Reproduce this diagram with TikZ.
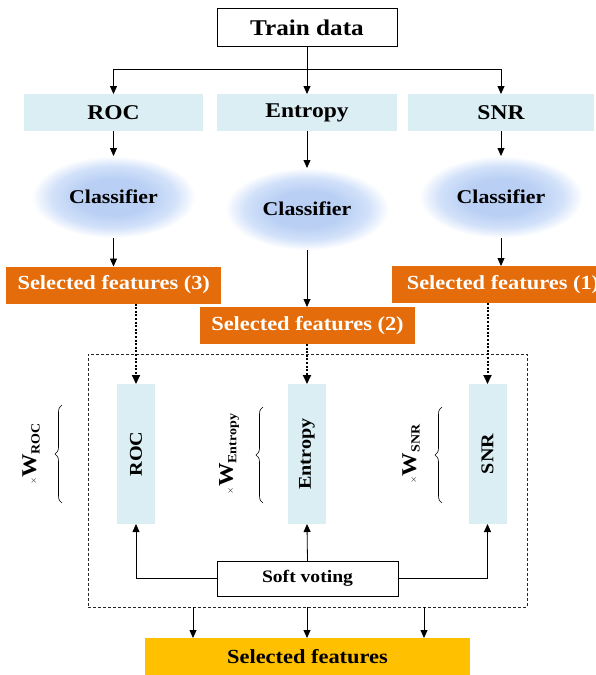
\documentclass[tikz,border=0pt]{standalone}
\usepackage{fontspec}
\setmainfont{Liberation Serif}[FakeStretch=1.12]
\usetikzlibrary{arrows.meta,shapes.geometric,decorations.pathreplacing}
\definecolor{lblue}{HTML}{DAEEF3}
\definecolor{orng}{HTML}{E46C0A}
\definecolor{goldc}{HTML}{FFC000}
\definecolor{ellc}{HTML}{B9CFF4}
\definecolor{ellm}{HTML}{D3E2FA}
\pgfdeclareradialshading{clsshade}{\pgfpoint{0bp}{0bp}}{color(0bp)=(ellc); color(11bp)=(ellc); color(19bp)=(ellm); color(25bp)=(white); color(50bp)=(white)}
\newcommand{\fs}[1]{\fontsize{#1}{#1}\selectfont}
\tikzset{
  every node/.style={inner sep=0pt, outer sep=0pt, font=\bfseries},
  whitebox/.style={draw=black, line width=1pt, fill=white},
  bluebox/.style={fill=lblue},
  orbox/.style={fill=orng, text=white, minimum width=215pt, minimum height=37pt, font=\bfseries\fs{20}},
  cls/.style={ellipse, shade, shading=clsshade, minimum width=164pt, minimum height=82pt, font=\bfseries\fs{19.5}},
  vbox/.style={fill=lblue, rotate=90, minimum width=140pt, minimum height=38pt, font=\bfseries\fs{18}},
  arr/.style={-{Triangle[length=8pt,width=7pt]}, line width=0.8pt},
  dotarr/.style={-{Triangle[length=9pt,width=8pt]}, line width=2pt, dash pattern=on 2pt off 1.6pt},
  brc/.style={decorate, decoration={brace, amplitude=7pt}, line width=0.6pt},
  wlab/.style={rotate=90, font=\bfseries}
}
\begin{document}
\begin{tikzpicture}[x=1pt, y=-1pt]
\useasboundingbox (0,0) rectangle (596,675);
% top
\node[whitebox, minimum width=180pt, minimum height=38pt, font=\bfseries\fs{22.5}] (train) at (307,27.5) {Train data};
\node[bluebox, minimum width=179pt, minimum height=37pt, font=\bfseries\fs{21}] (roc) at (113.5,112.5) {ROC};
\node[bluebox, minimum width=180pt, minimum height=37pt, font=\bfseries\fs{21}] (ent) at (307,112.5) {Entropy};
\node[bluebox, minimum width=186pt, minimum height=37pt, font=\bfseries\fs{21}] (snr) at (501,112.5) {SNR};
\coordinate (split) at (307,69);
\draw[line width=0.8pt] (train.south) -- (split);
\draw[arr] (split) -| (roc.north);
\draw[arr] (split) -- (ent.north);
\draw[arr] (split) -| (snr.north);
% classifiers
\node[cls] (cl1) at (113.5,197) {Classifier};
\node[cls] (cl2) at (307,209) {Classifier};
\node[cls] (cl3) at (501,197) {Classifier};
\draw[arr] (roc.south) -- (cl1.north);
\draw[arr] (ent.south) -- (cl2.north);
\draw[arr] (snr.south) -- (cl3.north);
% selected features
\node[orbox] (sf3) at (113.75,285) {Selected features (3)};
\node[orbox] (sf2) at (307.5,325.5) {Selected features (2)};
\node[orbox, minimum width=222pt] (sf1) at (503,284.5) {Selected features (1)};
\draw[arr] (cl1.south) -- (cl1.south |- sf3.north);
\draw[arr] (cl2.south) -- (cl2.south |- sf2.north);
\draw[arr] (cl3.south) -- (cl3.south |- sf1.north);
% group
\node[draw=black!85, line width=0.8pt, dash pattern=on 3pt off 2pt, minimum width=439pt, minimum height=253pt] (grp) at (307.5,480.5) {};
\node[vbox] (vroc) at (136,454) {ROC};
\node[vbox] (vent) at (307,454) {Entropy};
\node[vbox] (vsnr) at (487.5,454) {SNR};
\draw[dotarr] (vroc.east |- sf3.south) -- (vroc.east);
\draw[dotarr] (vent.east |- sf2.south) -- (vent.east);
\draw[dotarr] (vsnr.east |- sf1.south) -- (vsnr.east);
% braces and weights
\coordinate (b1s) at (62,503); \coordinate (b1e) at (62,405);
\coordinate (b2s) at (263,503); \coordinate (b2e) at (263,407);
\coordinate (b3s) at (442,503); \coordinate (b3e) at (442,407);
\draw[brc] (b1s) -- (b1e);
\draw[brc] (b2s) -- (b2e);
\draw[brc] (b3s) -- (b3e);
\node[wlab] (w1) at (31,454) {{\fs{9}$\times$}{\fs{21}W}{\fs{12.5}\raisebox{-3.5pt}{ROC}}};
\node[wlab] (w2) at (229,454) {{\fs{9}$\times$}{\fs{21}W}{\fs{12.5}\raisebox{-3.5pt}{Entropy}}};
\node[wlab] (w3) at (411,454) {{\fs{9}$\times$}{\fs{21}W}{\fs{12.5}\raisebox{-3.5pt}{SNR}}};
% soft voting
\node[whitebox, minimum width=181pt, minimum height=35pt, font=\bfseries\fs{17.5}] (soft) at (307.5,578.5) {Soft voting};
\draw[arr] (soft.west) -| (vroc.west);
\draw[arr] (soft.north) -- (vent.west);
\draw[arr] (soft.east) -| (vsnr.west);
% output
\node[fill=goldc, minimum width=325pt, minimum height=38pt, font=\bfseries\fs{20}] (gold) at (307.5,657) {Selected features};
\coordinate (g1) at (193,607);
\coordinate (g2) at (307,607);
\coordinate (g3) at (424,607);
\draw[arr] (g1) -- (g1 |- gold.north);
\draw[arr] (g2) -- (g2 |- gold.north);
\draw[arr] (g3) -- (g3 |- gold.north);
\end{tikzpicture}
\end{document}
